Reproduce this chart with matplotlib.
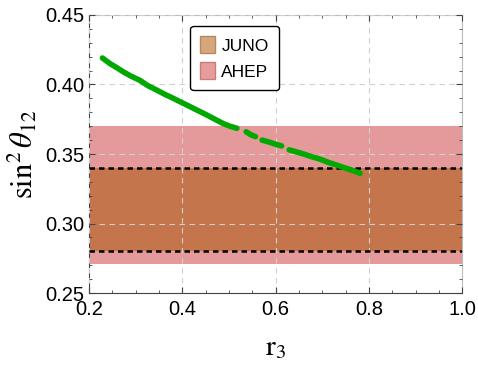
import numpy as np
import matplotlib.pyplot as plt
from matplotlib.patches import Patch
from matplotlib.ticker import MultipleLocator

# green scan points (r3, sin^2 theta12), NaN marks gaps in the scan
r3 = [0.229, 0.245, 0.260, 0.274, 0.290, 0.309, 0.327, 0.345, 0.362, 0.381,
      0.399, 0.417, 0.435, 0.453, 0.470, 0.487, 0.502, 0.517, np.nan,
      0.537, 0.546, 0.557, np.nan,
      0.571, 0.588, 0.600, 0.613, np.nan,
      0.629, 0.645, 0.660, 0.678, 0.696, 0.713, 0.731, 0.749, 0.767, 0.781]
s12 = [0.419, 0.415, 0.412, 0.409, 0.406, 0.403, 0.399, 0.396, 0.393, 0.390,
       0.387, 0.384, 0.381, 0.378, 0.375, 0.372, 0.370, 0.3685, np.nan,
       0.366, 0.364, 0.3625, np.nan,
       0.360, 0.3584, 0.357, 0.3558, np.nan,
       0.353, 0.3515, 0.350, 0.348, 0.3462, 0.344, 0.342, 0.340, 0.338, 0.3361]

ahep = (0.271, 0.370)
juno = (0.280, 0.340)

plt.rcParams['font.family'] = 'Liberation Sans'
plt.rcParams['mathtext.fontset'] = 'stix'

fig, ax = plt.subplots(figsize=(4.78, 3.72), dpi=100)
fig.subplots_adjust(left=0.186, right=0.967, top=0.96, bottom=0.212)

ax.axhspan(ahep[0], ahep[1], color='#e49a9a', lw=0, zorder=1)
ax.axhspan(juno[0], juno[1], color='#c4754b', lw=0, zorder=1.2)
ax.axhline(juno[0], color='black', ls=(0, (2.2, 1.6)), lw=1.8, zorder=3)
ax.axhline(juno[1], color='black', ls=(0, (2.2, 1.6)), lw=1.8, zorder=3)

ax.plot(r3, s12, color='#00a800', lw=4.0, solid_capstyle='round',
        solid_joinstyle='round', zorder=4)

ax.set_xlim(0.2, 1.0)
ax.set_ylim(0.25, 0.45)
ax.set_xticks([0.2, 0.4, 0.6, 0.8, 1.0])
ax.set_yticks([0.25, 0.30, 0.35, 0.40, 0.45])
ax.set_xticklabels(['0.2', '0.4', '0.6', '0.8', '1.0'])
ax.set_yticklabels(['0.25', '0.30', '0.35', '0.40', '0.45'])
ax.xaxis.set_minor_locator(MultipleLocator(0.05))
ax.yaxis.set_minor_locator(MultipleLocator(0.01))
ax.tick_params(which='both', direction='in', top=True, right=True,
               labelsize=14.5, color='#444444')
ax.tick_params(axis='x', which='both', pad=5)
ax.tick_params(axis='y', which='both', pad=3)
ax.tick_params(which='major', length=4, width=0.8)
ax.tick_params(which='minor', length=2.5, width=0.6)

ax.grid(True, which='major', color='#d0d0d0', ls=(0, (5, 4)), lw=0.8)
ax.set_axisbelow(False)

for side in ['top', 'right']:
    ax.spines[side].set_color('#bbbbbb')
for side in ['left', 'bottom']:
    ax.spines[side].set_color('#444444')

ax.set_xlabel(r'$\mathrm{r}_3$', fontsize=21, labelpad=10)
ax.set_ylabel(r'$\sin^2\theta_{12}$', fontsize=22, labelpad=4)

handles = [Patch(facecolor='#d7a77a', edgecolor='#b08a66', label='JUNO'),
           Patch(facecolor='#e89c9c', edgecolor='#c08080', label='AHEP')]
leg = ax.legend(handles=handles, loc='upper left', bbox_to_anchor=(0.271, 0.96),
                borderaxespad=0, fontsize=12.5, frameon=True, fancybox=True,
                framealpha=1, edgecolor='black', handlelength=0.85,
                handleheight=1.1, handletextpad=0.35, borderpad=0.6,
                labelspacing=0.5)
leg.get_frame().set_linewidth(1.0)
leg.set_zorder(5)

fig.savefig('out.png', dpi=100)
